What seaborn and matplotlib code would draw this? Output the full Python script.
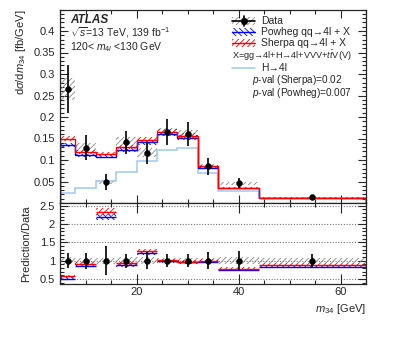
import numpy as np
import pandas as pd
import matplotlib
matplotlib.use("Agg")
import matplotlib.pyplot as plt
from matplotlib.patches import Rectangle
from matplotlib.lines import Line2D
from matplotlib.ticker import MultipleLocator
import seaborn as sns

# bins in m34 [GeV]
EDGES      = [5, 8, 12, 16, 20, 24, 28, 32, 36, 44, 65]
DATA       = [0.265, 0.129, 0.049, 0.141, 0.117, 0.165, 0.160, 0.085, 0.046, 0.014]
DATA_STAT  = [0.055, 0.028, 0.019, 0.027, 0.026, 0.030, 0.028, 0.020, 0.012, 0.0025]
DATA_SYST  = [0.025, 0.010, 0.004, 0.012, 0.010, 0.010, 0.010, 0.006, 0.004, 0.001]
SHERPA     = [0.150, 0.118, 0.114, 0.130, 0.147, 0.166, 0.156, 0.085, 0.036, 0.0125]
SHERPA_UNC = [0.006, 0.005, 0.005, 0.005, 0.006, 0.006, 0.006, 0.004, 0.002, 0.0006]
POWHEG     = [0.135, 0.111, 0.108, 0.123, 0.141, 0.161, 0.152, 0.082, 0.034, 0.0115]
POWHEG_UNC = [0.004, 0.004, 0.004, 0.004, 0.005, 0.005, 0.005, 0.003, 0.0015, 0.0005]
HIGGS      = [0.0226, 0.036, 0.051, 0.073, 0.098, 0.124, 0.128, 0.069, 0.029, 0.011]

RED, BLUE, LBLUE, GREY = "#ff0000", "#0000ff", "#9ccaf5", "#888888"

sns.set_theme(style="ticks")
plt.rcParams["font.family"] = ["Liberation Sans", "DejaVu Sans"]
plt.rcParams["mathtext.fontset"] = "custom"
plt.rcParams["mathtext.rm"] = "Liberation Sans"
plt.rcParams["mathtext.it"] = "Liberation Sans:italic"
plt.rcParams["mathtext.bf"] = "Liberation Sans:bold"
plt.rcParams["hatch.linewidth"] = 0.6

W, H = 399, 337
fig = plt.figure(figsize=(W / 100, H / 100), dpi=100)


def fx(px):
    return px / W


def fy(py):
    return 1 - py / H


ax = fig.add_axes([fx(60), fy(203), fx(366) - fx(60), fy(9.5) - fy(203)])
rx = fig.add_axes([fx(60), fy(284), fx(366) - fx(60), fy(203) - fy(284)], sharex=ax)

edges = np.array(EDGES, float)
cent = 0.5 * (edges[1:] + edges[:-1])
data, stat, syst = map(np.array, (DATA, DATA_STAT, DATA_SYST))
sh, shu = np.array(SHERPA), np.array(SHERPA_UNC)
pw, pwu = np.array(POWHEG), np.array(POWHEG_UNC)

# ---- main panel
ax.stairs(data + syst, edges, baseline=data - syst, fill=True, facecolor="none",
          edgecolor=GREY, hatch="//////", lw=0)
ax.stairs(HIGGS, edges, color=LBLUE, lw=1.1)
ax.stairs(pw + pwu, edges, baseline=pw - pwu, fill=True, facecolor="none",
          edgecolor=BLUE, hatch="\\\\\\\\\\\\", lw=0)
ax.stairs(pw, edges, color=BLUE, lw=1.0)
ax.stairs(sh + shu, edges, baseline=sh - shu, fill=True, facecolor="none",
          edgecolor=RED, hatch="//////", lw=0)
ax.stairs(sh, edges, color=RED, lw=1.0)
ax.errorbar(cent, data, yerr=stat, fmt="none", ecolor="black", elinewidth=1.2)
sns.scatterplot(x=cent, y=data, ax=ax, color="black", s=18, edgecolor="black", zorder=5)

ax.set_xlim(5, 65)
ax.set_ylim(0, 0.45)
ax.yaxis.set_minor_locator(MultipleLocator(0.01))
ax.set_yticks([0.05, 0.1, 0.15, 0.2, 0.25, 0.3, 0.35, 0.4])
ax.set_yticklabels(["0.05", "0.1", "0.15", "0.2", "0.25", "0.3", "0.35", "0.4"])
ax.set_ylabel("d$\\sigma$/d$m_{34}$ [fb/GeV]", fontsize=8, loc="top", labelpad=4)
ax.tick_params(labelbottom=False)

# ---- ratio panel
for v in [0.5, 1, 1.5, 2, 2.5]:
    rx.axhline(v, color="#777777", ls=(0, (1, 1.5)), lw=0.8, zorder=0)
rx.stairs(1 + syst / data, edges, baseline=1 - syst / data, fill=True, facecolor="none",
          edgecolor=GREY, hatch="//////", lw=0)
for vals, unc, col, hatch in [(pw, pwu, BLUE, "\\\\\\\\\\\\"), (sh, shu, RED, "//////")]:
    r = vals / data
    ru = np.maximum(unc / data, 0.035)
    rx.stairs(r + ru, edges, baseline=r - ru, fill=True, facecolor="none",
              edgecolor=col, hatch=hatch, lw=0)
    rx.hlines(r, edges[:-1], edges[1:], color=col, lw=1.0)
rx.errorbar(cent, np.ones_like(cent), yerr=stat / data, fmt="none", ecolor="black", elinewidth=1.2)
sns.scatterplot(x=cent, y=np.ones_like(cent), ax=rx, color="black", s=18, edgecolor="black", zorder=5)

rx.set_ylim(0.36, 2.575)
rx.set_yticks([0.5, 1, 1.5, 2, 2.5])
rx.set_yticklabels(["0.5", "1", "1.5", "2", "2.5"])
rx.yaxis.set_minor_locator(MultipleLocator(0.1))
rx.set_xticks([20, 40, 60])
rx.set_ylabel("Prediction/Data", fontsize=8, labelpad=6)
rx.set_xlabel("$m_{34}$ [GeV]", fontsize=8, loc="right", labelpad=4)

for a in (ax, rx):
    a.xaxis.set_minor_locator(MultipleLocator(5))
    a.tick_params(which="both", direction="in", top=True, right=True, labelsize=8, width=0.8)
    a.tick_params(which="major", length=6)
    a.tick_params(which="minor", length=3)
    for s in a.spines.values():
        s.set_linewidth(0.9)
        s.set_visible(True)
rx.tick_params(axis="x", which="major", length=7, pad=2)

# ---- labels
fig.text(fx(70), fy(20), "ATLAS", fontsize=8.5, fontweight="bold", fontstyle="italic", va="center")
fig.text(fx(70), fy(33), "$\\sqrt{s}$=13 TeV, 139 fb$^{-1}$", fontsize=7.5, va="center")
fig.text(fx(70), fy(47), "120< $m_{4l}$ <130 GeV", fontsize=7.5, va="center")

# ---- legend
hx0, hx1 = 232, 255
hw, hh = fx(hx1) - fx(hx0), 8 / H
fig.patches.append(Rectangle((fx(hx0), fy(21) - hh / 2), hw, hh, transform=fig.transFigure,
                             facecolor="none", edgecolor=GREY, hatch="//////", lw=0))
fig.lines.append(Line2D([fx(hx0), fx(hx1)], [fy(21), fy(21)], color="black", lw=1.2, transform=fig.transFigure))
fig.lines.append(Line2D([fx(243.5)] * 2, [fy(16), fy(26)], color="black", lw=1.2, transform=fig.transFigure))
fig.lines.append(Line2D([fx(243.5)], [fy(21)], color="black", marker="o", ms=4, transform=fig.transFigure))
for yy, col, hatch in [(32, BLUE, "\\\\\\\\\\\\"), (43, RED, "//////")]:
    fig.patches.append(Rectangle((fx(hx0), fy(yy) - hh / 2), hw, hh, transform=fig.transFigure,
                                 facecolor="none", edgecolor=col, hatch=hatch, lw=0))
    fig.lines.append(Line2D([fx(hx0), fx(hx1)], [fy(yy), fy(yy)], color=col, lw=1.0, transform=fig.transFigure))
fig.lines.append(Line2D([fx(hx0), fx(hx1)], [fy(68), fy(68)], color=LBLUE, lw=1.1, transform=fig.transFigure))

fig.text(fx(261), fy(21), "Data", fontsize=7.5, va="center")
fig.text(fx(261), fy(32), "Powheg qq→4l + X", fontsize=7.5, va="center")
fig.text(fx(261), fy(43), "Sherpa qq→4l + X", fontsize=7.5, va="center")
fig.text(fx(232), fy(56), "X=gg→4l+H→4l+VVV+$t\\bar{t}$V(V)", fontsize=6.6, va="center")
fig.text(fx(261), fy(68), "H→4l", fontsize=7.5, va="center")
fig.text(fx(252), fy(80), "$p$-val (Sherpa)=0.02", fontsize=7.2, va="center")
fig.text(fx(252), fy(92.5), "$p$-val (Powheg)=0.007", fontsize=7.2, va="center")

fig.savefig("out.png", dpi=100)
